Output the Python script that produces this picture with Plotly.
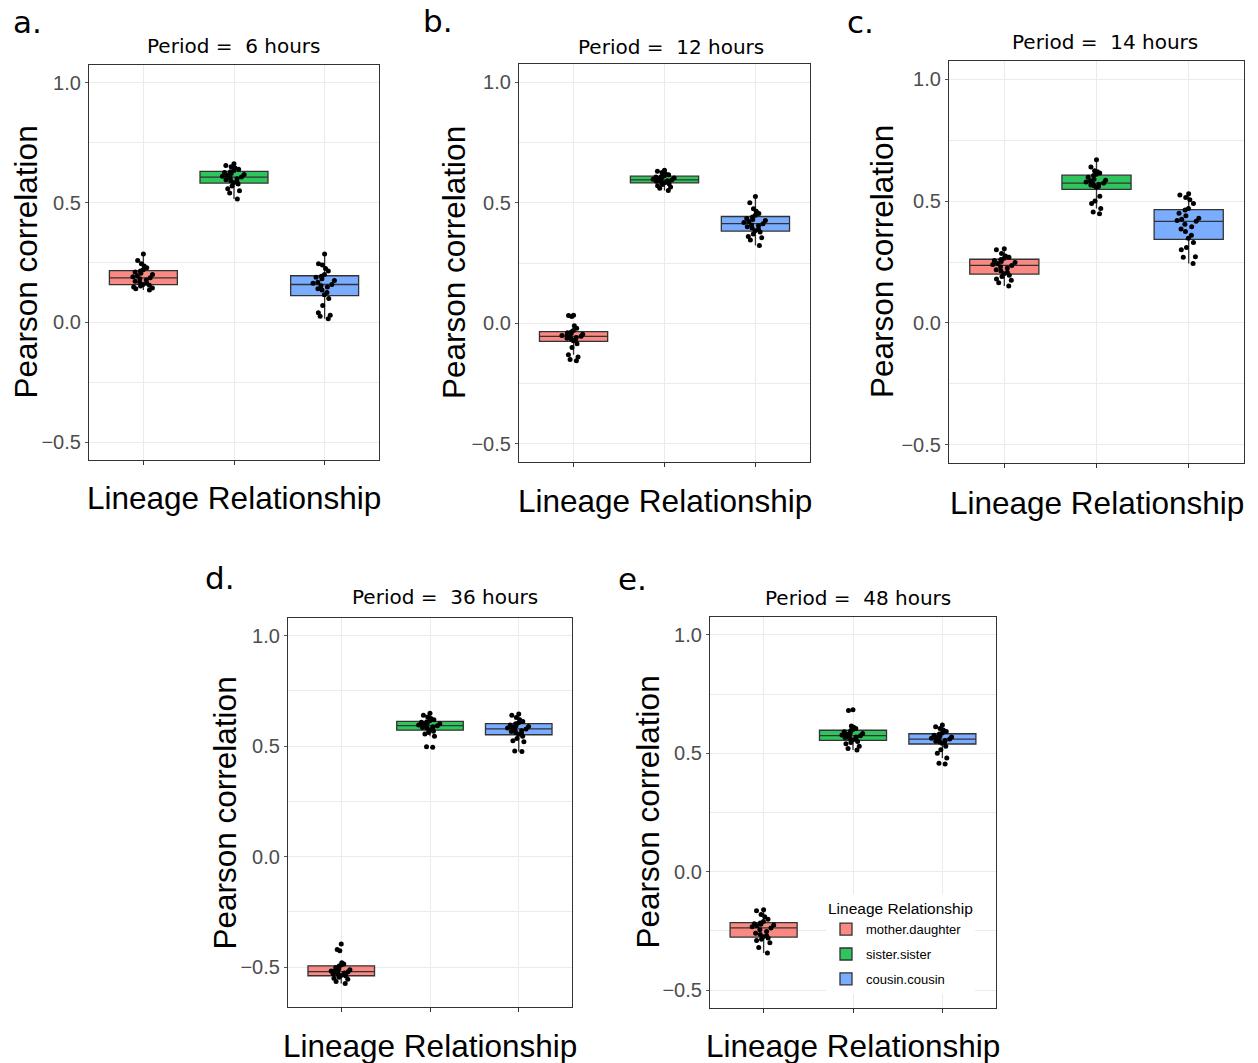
import plotly.graph_objects as go

W, H = 1258, 1063

# ---- data -------------------------------------------------------------
relationships = ["mother.daughter", "sister.sister", "cousin.cousin"]
period_hours = ["6", "12", "14", "36", "48"]
panel_tags = ["a.", "b.", "c.", "d.", "e."]
y_tick_values = [-0.5, 0.0, 0.5, 1.0]

# Pearson correlations per lineage relationship, one list per period
md_6h = [0.135, 0.14, 0.143, 0.148, 0.152, 0.155, 0.158, 0.163, 0.168, 0.172, 0.177, 0.182, 0.186,
         0.19, 0.195, 0.2, 0.205, 0.21, 0.215, 0.22, 0.228, 0.235, 0.245, 0.258, 0.285]
ss_6h = [0.515, 0.54, 0.55, 0.558, 0.57, 0.578, 0.583, 0.588, 0.592, 0.596, 0.6, 0.604, 0.607,
         0.61, 0.614, 0.618, 0.622, 0.626, 0.629, 0.634, 0.64, 0.645, 0.65, 0.655, 0.662]
cc_6h = [0.015, 0.025, 0.03, 0.04, 0.07, 0.1, 0.115, 0.125, 0.135, 0.14, 0.148, 0.153, 0.158,
         0.163, 0.168, 0.175, 0.182, 0.188, 0.193, 0.2, 0.215, 0.225, 0.24, 0.245, 0.285]

md_12h = [-0.155, -0.15, -0.14, -0.13, -0.1, -0.085, -0.072, -0.068, -0.065, -0.062, -0.059, -0.056, -0.054,
          -0.051, -0.048, -0.045, -0.042, -0.039, -0.036, -0.03, -0.02, -0.01, 0.028, 0.032, 0.033]
ss_12h = [0.551, 0.56, 0.565, 0.57, 0.575, 0.579, 0.583, 0.585, 0.587, 0.589, 0.591, 0.593, 0.595,
          0.597, 0.6, 0.602, 0.604, 0.607, 0.609, 0.612, 0.616, 0.62, 0.625, 0.63, 0.634]
cc_12h = [0.323, 0.345, 0.355, 0.36, 0.37, 0.378, 0.384, 0.39, 0.395, 0.4, 0.404, 0.408, 0.413,
          0.418, 0.422, 0.426, 0.43, 0.435, 0.441, 0.448, 0.455, 0.465, 0.475, 0.5, 0.526]

md_14h = [0.151, 0.165, 0.175, 0.18, 0.19, 0.196, 0.202, 0.208, 0.213, 0.218, 0.225, 0.23, 0.236,
          0.24, 0.244, 0.248, 0.252, 0.256, 0.26, 0.265, 0.27, 0.275, 0.285, 0.3, 0.304]
ss_14h = [0.448, 0.455, 0.47, 0.49, 0.5, 0.52, 0.557, 0.56, 0.563, 0.566, 0.569, 0.572, 0.574,
          0.578, 0.582, 0.586, 0.59, 0.598, 0.605, 0.61, 0.615, 0.62, 0.625, 0.64, 0.67]
cc_14h = [0.244, 0.27, 0.272, 0.3, 0.31, 0.33, 0.347, 0.36, 0.375, 0.385, 0.395, 0.405, 0.417,
          0.42, 0.425, 0.43, 0.44, 0.45, 0.463, 0.47, 0.49, 0.505, 0.515, 0.525, 0.53]

md_36h = [-0.574, -0.565, -0.555, -0.55, -0.545, -0.54, -0.538, -0.535, -0.532, -0.529, -0.526, -0.523, -0.52,
          -0.517, -0.514, -0.511, -0.507, -0.501, -0.495, -0.49, -0.485, -0.48, -0.425, -0.42, -0.395]
ss_36h = [0.495, 0.497, 0.545, 0.555, 0.562, 0.568, 0.574, 0.578, 0.582, 0.585, 0.588, 0.59, 0.593,
          0.596, 0.599, 0.602, 0.605, 0.608, 0.611, 0.615, 0.62, 0.625, 0.632, 0.64, 0.649]
cc_36h = [0.476, 0.478, 0.52, 0.525, 0.535, 0.545, 0.554, 0.558, 0.562, 0.566, 0.57, 0.574, 0.578,
          0.582, 0.586, 0.589, 0.592, 0.596, 0.601, 0.606, 0.612, 0.62, 0.63, 0.64, 0.646]

md_48h = [-0.343, -0.32, -0.3, -0.29, -0.285, -0.28, -0.274, -0.27, -0.265, -0.26, -0.252, -0.245, -0.237,
          -0.232, -0.228, -0.225, -0.222, -0.219, -0.216, -0.21, -0.2, -0.19, -0.18, -0.165, -0.16]
ss_48h = [0.514, 0.52, 0.53, 0.54, 0.545, 0.55, 0.556, 0.56, 0.563, 0.566, 0.569, 0.572, 0.574,
          0.577, 0.58, 0.583, 0.587, 0.591, 0.596, 0.6, 0.605, 0.61, 0.615, 0.68, 0.684]
cc_48h = [0.455, 0.458, 0.48, 0.5, 0.515, 0.53, 0.542, 0.545, 0.548, 0.551, 0.554, 0.557, 0.56,
          0.563, 0.566, 0.569, 0.572, 0.576, 0.581, 0.586, 0.592, 0.598, 0.605, 0.612, 0.619]

panel_data = [
    [md_6h, ss_6h, cc_6h],
    [md_12h, ss_12h, cc_12h],
    [md_14h, ss_14h, cc_14h],
    [md_36h, ss_36h, cc_36h],
    [md_48h, ss_48h, cc_48h],
]

# ---- styling ----------------------------------------------------------
fill_colors = ["rgba(248,118,109,0.86)", "rgba(0,186,56,0.82)", "rgba(97,156,255,0.84)"]
GRID = "#EBEBEB"
BORDER = "#333333"
SANS = "Liberation Sans, Arial, sans-serif"
DEJAVU = "DejaVu Sans, sans-serif"

# panel rectangles in pixels: (left, right, top, bottom) and y range
panels = [
    dict(l=89, r=379, t=65, b=460, yr=[-0.575, 1.075]),
    dict(l=519, r=810, t=64, b=462, yr=[-0.575, 1.075]),
    dict(l=949, r=1244, t=61, b=463, yr=[-0.575, 1.075]),
    dict(l=288, r=572, t=618, b=1007, yr=[-0.68, 1.08]),
    dict(l=710, r=996, t=617, b=1008, yr=[-0.575, 1.075]),
]
# label placements in pixels
title_pos = [(234, 46), (671, 47), (1105, 42), (445, 597), (858, 598)]
tag_pos = [(11, 22), (421, 21), (845, 22), (203, 578), (616, 579)]
ytitle_x = [25, 454, 882, 224, 647]
xtitle_y = [498, 501, 503, 1046, 1046]


def px_x(v):
    return v / W


def px_y(v):
    return 1 - v / H


fig = go.Figure()
annotations = []

for p, (geo, groups) in enumerate(zip(panels, panel_data)):
    suffix = "" if p == 0 else str(p + 1)
    xa, ya = "x" + suffix, "y" + suffix
    for k, (name, values) in enumerate(zip(relationships, groups)):
        fig.add_trace(go.Box(
            y=values, x0=k + 1, name=name,
            xaxis=xa, yaxis=ya,
            width=0.75, whiskerwidth=0,
            boxpoints="all", jitter=0.35, pointpos=0,
            fillcolor=fill_colors[k],
            line=dict(color=BORDER, width=1.3),
            marker=dict(color="black", size=5),
            legendgroup=name, showlegend=(p == 4),
            hoverinfo="skip",
        ))

    common_line = dict(showline=True, linecolor=BORDER, linewidth=1.2, mirror=True)
    fig.update_layout(**{
        "xaxis" + suffix: dict(
            domain=[px_x(geo["l"]), px_x(geo["r"])], anchor=ya,
            range=[0.4, 3.6], tickmode="array", tickvals=[1, 2, 3],
            showticklabels=False, ticks="outside", ticklen=4, tickcolor=BORDER,
            showgrid=True, gridcolor=GRID, gridwidth=1, zeroline=False,
            **common_line),
        "yaxis" + suffix: dict(
            domain=[px_y(geo["b"]), px_y(geo["t"])], anchor=xa,
            range=geo["yr"], tickmode="array", tickvals=y_tick_values, tickformat=".1f",
            ticks="outside", ticklen=3, tickcolor="#555555",
            tickfont=dict(family=SANS, size=20, color="#4D4D4D"),
            showgrid=True, gridcolor=GRID, gridwidth=1, zeroline=False,
            minor=dict(tickvals=[-0.25, 0.25, 0.75], showgrid=True, gridcolor=GRID, gridwidth=0.7),
            **common_line),
    })

    cx = (geo["l"] + geo["r"]) / 2
    cy = (geo["t"] + geo["b"]) / 2
    annotations += [
        dict(text="Period =\u00a0 " + period_hours[p] + " hours",
             x=px_x(title_pos[p][0]), y=px_y(title_pos[p][1]),
             font=dict(family=DEJAVU, size=20, color="black")),
        dict(text=panel_tags[p], x=px_x(tag_pos[p][0]), y=px_y(tag_pos[p][1]), xanchor="left",
             font=dict(family=DEJAVU, size=31, color="black")),
        dict(text="Pearson correlation", textangle=-90,
             x=px_x(ytitle_x[p]), y=px_y(cy),
             font=dict(family=SANS, size=31.5, color="black")),
        dict(text="Lineage Relationship", x=px_x(cx), y=px_y(xtitle_y[p]),
             font=dict(family=SANS, size=31.5, color="black")),
    ]

for a in annotations:
    a.update(xref="paper", yref="paper", showarrow=False)
    a.setdefault("xanchor", "center")
    a.setdefault("yanchor", "middle")

fig.update_layout(
    width=W, height=H,
    margin=dict(l=0, r=0, t=0, b=0),
    paper_bgcolor="white", plot_bgcolor="white",
    boxmode="overlay",
    annotations=annotations,
    showlegend=True,
    legend=dict(
        x=px_x(826), y=px_y(894), xanchor="left", yanchor="top",
        bgcolor="white", borderwidth=0,
        title=dict(text="Lineage Relationship", font=dict(family=SANS, size=15.5, color="black")),
        font=dict(family=SANS, size=13, color="black"),
        tracegroupgap=5,
    ),
)

fig.write_html("out.html")
